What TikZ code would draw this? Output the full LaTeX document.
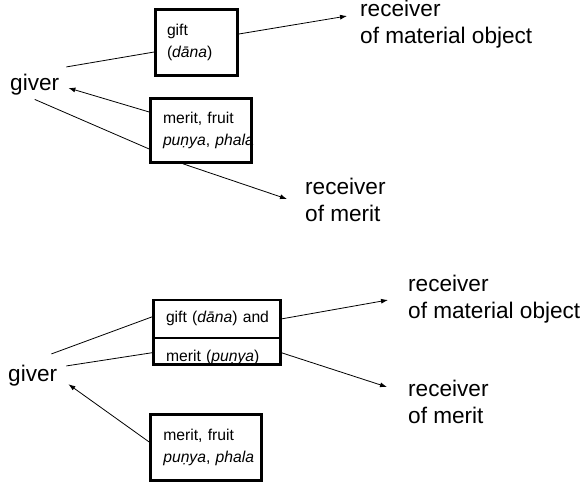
\documentclass[tikz,border=0pt]{standalone}
\usepackage{fontspec}
\setmainfont{Liberation Sans}
\usetikzlibrary{arrows.meta,calc,positioning}
\tikzset{
  box/.style={draw, line width=2.6pt, fill=white, align=left, font=\fontsize{15.7}{21.5}\selectfont},
  party/.style={inner sep=0pt, align=left, font=\fontsize{22.6}{27}\selectfont},
  link/.style={line width=0.8pt},
  flow/.style={link, -{Latex[length=7pt,width=5pt]}}
}

\begin{document}
\begin{tikzpicture}[x=1pt,y=-1pt]
  \useasboundingbox (0,0) rectangle (584,483);
  % upper scheme
  \node[party, anchor=base west] (givertop) at (10,90.5) {giver};
  \node[party, anchor=north west] (objtop) at (360,0) {receiver\\of material object};
  \node[party, anchor=north west] (merittop) at (305,178) {receiver\\of merit};
  \node[box, text width=59pt, inner xsep=11.5pt, minimum height=66pt] (gifttop) at (196.5,42.5) {gift\\(\textit{dāna})};
  \node[box, text width=76pt, inner xsep=12.5pt, minimum height=64pt] (fruittop) at (201,130.5) {merit, fruit\\\mbox{\textit{puṇya}, \textit{phala}}};
  \draw[link] ($(givertop.north east)+(7,-7)$) -- ($(gifttop.west)+(0,9.5)$);
  \draw[flow] ($(gifttop.east)+(0,-8.5)$) -- ($(objtop.north west)+(-13,16)$);
  \draw[flow] ($(fruittop.west)+(0,-18.5)$) -- ($(givertop.east)+(9,3.3)$);
  \draw[link] ($(givertop.south)+(0,4)$) -- ($(fruittop.west)+(0,18.5)$);
  \draw[flow] ($(fruittop.south)+(-18,0)$) -- ($(merittop.north west)+(-18,21)$);
  % lower scheme
  \node[party, anchor=base west] (giverbot) at (8,381) {giver};
  \node[party, anchor=north west] (objbot) at (408,275) {receiver\\of material object};
  \node[party, anchor=north west] (meritbot) at (408,380) {receiver\\of merit};
  \node[box, text width=101.4pt, inner xsep=12.8pt, inner ysep=0pt, minimum height=38.2pt] (giftboth) at (216.7,318.9) {\mbox{gift (\textit{dāna}) and}};
  \node[box, text width=101.4pt, inner xsep=12.8pt, inner ysep=0pt, text height=21pt, text depth=0pt, minimum height=26.5pt] (meritboth) at (216.7,351.25) {merit (\textit{puṇya})};
  \node[box, text width=85.4pt, inner xsep=12.8pt, minimum height=66pt] (fruitbot) at (206,447.5) {merit, fruit\\\mbox{\textit{puṇya}, \textit{phala}}};
  \draw[link] ($(giverbot.north east)+(-6,-10.5)$) -- ($(giftboth.west)+(0,-2)$);
  \draw[link] ($(giverbot.north east)+(9,1.5)$) -- ($(meritboth.west)+(0,1.5)$);
  \draw[flow] (giftboth.east) -- ($(objbot.north west)+(-20,25)$);
  \draw[flow] ($(meritboth.east)+(0,1.5)$) -- ($(meritbot.north west)+(-21,7)$);
  \draw[flow] ($(fruitbot.west)+(0,-5.5)$) -- ($(giverbot.south east)+(11,-1.7)$);
\end{tikzpicture}
\end{document}
